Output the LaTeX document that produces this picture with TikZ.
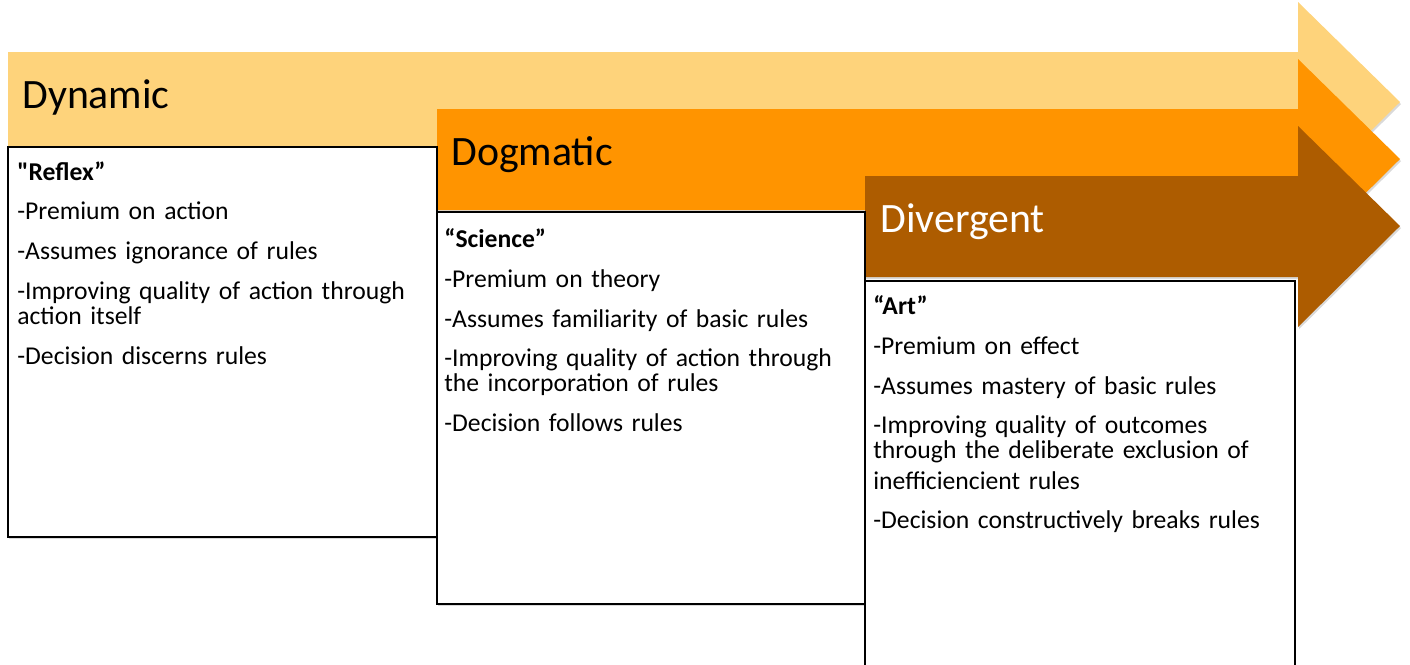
\documentclass[tikz,border=0pt]{standalone}
\usepackage{fontspec}
\setmainfont{Carlito}[Ligatures=TeXOff]
\usepackage{tikz}
\usetikzlibrary{positioning, shadows}
\definecolor{paleorange}{HTML}{FED37B}
\definecolor{brightorange}{HTML}{FF9400}
\definecolor{darkbrown}{HTML}{AD5C00}

\begin{document}
\begin{tikzpicture}[x=0.02cm, y=-0.02cm,
		stagearrow/.style={drop shadow={shadow xshift=0.6pt, shadow yshift=-1.2pt, opacity=0.3}},
		stagetitle/.style={anchor=base west, inner sep=0, font=\fontsize{23.8}{28}\selectfont},
		notebox/.style={draw=black, fill=white, line width=0.9pt, drop shadow={shadow xshift=0.6pt, shadow yshift=-1.2pt, opacity=0.3}},
		notetext/.style={anchor=north west, align=left, inner sep=0, text width=8.4cm, font=\fontsize{14.6}{14.2}\selectfont}]
			\useasboundingbox (0,0) rectangle (1410,664);
			\clip (0,0) rectangle (1410,664);
			%% the three stage arrows, tail x / body top / colour
			\foreach \tx/\ty/\col in {8/52/paleorange, 437/109/brightorange, 865/176/darkbrown}
				\fill [\col, stagearrow] (\tx,\ty) -- (1298,\ty) -- (1298,\ty-50) -- (1400,\ty+50) -- (1298,\ty+151) -- (1298,\ty+101) -- (\tx,\ty+101) -- cycle;
			
			\node [stagetitle] (dynamic) at (22,108) {Dynamic};
			\node [stagetitle] (dogmatic) at (451,165) {Dogmatic};
			\node [stagetitle, text=white] (divergent) at (880,232) {Divergent};
			
			%% note boxes under each arrow
			\draw [notebox] (8,147) rectangle (437,537);
			\draw [notebox] (437,212) rectangle (865,604);
			\draw [notebox] (865,281) rectangle (1295,700);
			
			\node [notetext] (reflex) at (17,161) {\textbf{"Reflex”}\\[8.5pt]
				-Premium on action\\[8.5pt]
				-Assumes ignorance of rules\\[8.5pt]
				-Improving quality of action through\\action itself\\[8.5pt]
				-Decision discerns rules};
			\node [notetext] (science) at (444,228) {\textbf{“Science”}\\[8.5pt]
				-Premium on theory\\[8.5pt]
				-Assumes familiarity of basic rules\\[8.5pt]
				-Improving quality of action through\\the incorporation of rules\\[8.5pt]
				-Decision follows rules};
			\node [notetext] (art) at (873,295) {\textbf{“Art”}\\[8.5pt]
				-Premium on effect\\[8.5pt]
				-Assumes mastery of basic rules\\[8.5pt]
				-Improving quality of outcomes\\through the deliberate exclusion of\\[3pt]inefficiencient rules\\[8.5pt]
				-Decision constructively breaks rules};
\end{tikzpicture}
\end{document}
